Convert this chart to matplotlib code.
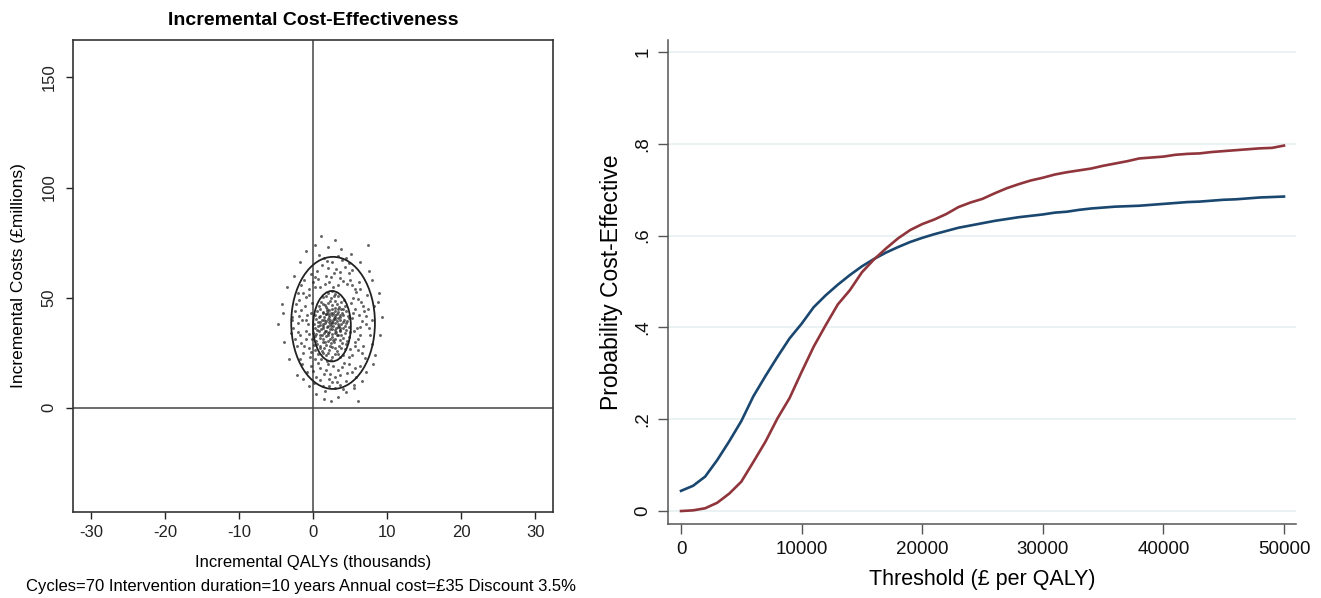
import matplotlib
matplotlib.use("Agg")
import matplotlib.pyplot as plt
from matplotlib.patches import Ellipse

plt.rcParams['font.family'] = ['Liberation Sans', 'DejaVu Sans']

# ---------------- Left panel data (cost-effectiveness plane) ----------------
outer_pts = [(-4.8, 38), (-4.2, 47), (-3.9, 30), (-3.5, 55), (-3.3, 22), (-2.9, 41), (-2.6, 60),
             (-2.2, 15), (-1.8, 66), (-1.0, 71), (-0.6, 10), (0.2, 74), (0.4, 6), (1.1, 78),
             (1.5, 4), (2.0, 73), (2.4, 3), (2.9, 76), (3.3, 5), (3.8, 72), (4.4, 7), (5.1, 70),
             (5.5, 9), (6.3, 66), (6.6, 12), (7.4, 74), (7.2, 16), (8.0, 58), (8.3, 24), (8.7, 48),
             (9.0, 33), (9.3, 41), (8.9, 52), (8.1, 20), (-3.0, 34), (-4.0, 43), (-2.0, 52),
             (7.6, 62), (6.0, 3), (-1.5, 20)]
top_pts = [(0.5, 62), (1.2, 65), (1.8, 60), (2.5, 66), (3.1, 63), (3.7, 59), (4.3, 64), (5.0, 58),
           (0.0, 57), (1.0, 55), (2.2, 57), (3.4, 55.5), (4.6, 56), (5.6, 54), (-0.6, 54), (2.8, 61),
           (1.5, 68), (3.9, 67), (4.8, 61), (0.3, 59.5), (2.0, 63.5), (6.2, 57), (-1.2, 58),
           (5.3, 62.5), (3.3, 69)]
bottom_pts = [(0.4, 14), (1.3, 10), (2.1, 13), (2.9, 9), (3.6, 15), (4.4, 12), (5.2, 16), (0.9, 18),
              (1.8, 17), (2.7, 19), (3.9, 18.5), (4.9, 20), (5.8, 14), (-0.3, 19), (-0.8, 16),
              (1.6, 7.5), (3.2, 11.5), (6.3, 19), (2.3, 15.5), (4.1, 8.5), (0.1, 11), (5.5, 10.5),
              (-1.3, 13)]
left_pts = [(-2.7, 36), (-2.4, 44), (-2.2, 28), (-1.9, 49), (-1.7, 33), (-1.5, 40), (-1.3, 25),
            (-1.1, 46), (-0.9, 31), (-0.7, 38), (-0.5, 51), (-0.4, 23), (-0.3, 43), (-2.0, 38.5),
            (-1.6, 29.5), (-1.0, 35), (-0.6, 27), (-1.4, 52), (-2.5, 31), (-0.2, 47.5), (-1.8, 22),
            (-2.9, 40), (-0.8, 42)]
right_pts = [(5.3, 24), (5.6, 30), (5.9, 36), (6.2, 42), (6.5, 48), (6.8, 28), (7.1, 38), (7.4, 45),
             (7.7, 33), (8.0, 40), (5.4, 50), (5.7, 45), (6.0, 26), (6.3, 33), (6.6, 39.5),
             (7.0, 22.5), (7.3, 51), (5.2, 40.5), (5.5, 35), (6.9, 44), (7.9, 29), (8.2, 46),
             (5.8, 52.5)]
band_pts = [(0.7, 58.5), (1.6, 56.2), (2.4, 59.3), (3.6, 61.8), (4.1, 57.4), (0.2, 55.0), (-0.3, 60.8),
            (4.9, 65.5), (1.9, 66.8), (2.7, 54.6), (5.2, 55.7), (-0.9, 50.3), (-1.6, 44.5),
            (-2.1, 34.2), (-1.2, 27.8), (-0.5, 33.5), (-0.9, 39.8), (-1.9, 41.8), (-0.3, 25.4),
            (-2.3, 47.0), (5.6, 27.8), (6.1, 31.0), (6.4, 36.5), (5.4, 43.0), (6.7, 46.2),
            (7.2, 41.5), (6.0, 49.5), (7.5, 36.0), (5.1, 47.5), (6.6, 24.8), (0.6, 20.2),
            (1.5, 15.3), (2.6, 11.8), (3.4, 17.2), (4.6, 15.8), (5.6, 18.2), (1.0, 12.6),
            (3.0, 14.0), (4.2, 20.4), (0.0, 16.5), (2.0, 19.8), (4.8, 23.2), (5.0, 26.5),
            (0.2, 22.0), (3.6, 10.2), (2.2, 9.8), (6.4, 54.0), (-1.6, 55.5), (4.4, 68.0),
            (0.8, 69.5)]
inner_pts = [(1.1, 22.3), (2.4, 21.6), (3.6, 22.8),
             (0.6, 24.2), (1.7, 23.8), (2.9, 24.5), (4.0, 24.0),
             (0.3, 26.1), (1.2, 25.7), (2.1, 26.4), (3.2, 25.9), (4.3, 26.6),
             (0.1, 28.3), (0.9, 27.8), (1.8, 28.6), (2.6, 27.5), (3.5, 28.2), (4.5, 28.9),
             (0.4, 30.2), (1.3, 29.7), (2.0, 30.5), (2.8, 29.9), (3.7, 30.6), (4.6, 30.1), (-0.1, 31.0),
             (0.2, 32.4), (1.0, 31.8), (1.7, 32.6), (2.5, 32.0), (3.2, 32.8), (4.0, 31.7), (4.8, 32.3),
             (0.0, 34.1), (0.8, 34.6), (1.5, 33.9), (2.2, 34.4), (2.9, 33.8), (3.6, 34.7), (4.3, 34.0), (5.0, 34.5),
             (0.3, 36.3), (1.1, 35.8), (1.9, 36.5), (2.6, 35.9), (3.3, 36.6), (4.1, 36.1), (4.8, 36.8),
             (0.1, 38.2), (0.9, 37.6), (1.6, 38.4), (2.3, 37.9), (3.0, 38.6), (3.8, 37.8), (4.5, 38.3),
             (0.4, 40.1), (1.2, 39.7), (2.0, 40.4), (2.7, 39.9), (3.4, 40.6), (4.2, 40.0), (4.9, 40.7),
             (0.2, 42.2), (1.0, 41.6), (1.8, 42.5), (2.5, 41.9), (3.2, 42.7), (4.0, 42.1), (4.7, 41.5),
             (0.5, 44.0), (1.4, 43.6), (2.2, 44.4), (3.0, 43.8), (3.8, 44.6), (4.5, 44.1),
             (0.8, 46.2), (1.7, 45.7), (2.6, 46.5), (3.5, 45.9), (4.3, 46.4),
             (1.1, 48.1), (2.0, 47.6), (2.9, 48.4), (3.8, 47.9),
             (1.4, 50.2), (2.4, 49.7), (3.4, 50.5),
             (2.0, 52.1), (3.0, 51.6)]
core_pts = [(1.4, 31.0), (2.3, 31.2), (3.0, 31.4), (1.2, 33.1), (2.6, 33.3), (3.4, 33.0), (1.8, 35.0),
            (2.9, 35.2), (3.7, 35.4), (0.7, 36.9), (1.4, 37.1), (2.0, 37.3), (2.7, 37.0), (3.5, 37.2),
            (1.0, 39.0), (1.8, 39.2), (2.5, 39.1), (3.2, 39.3), (4.0, 39.0), (1.5, 41.0), (2.2, 41.2),
            (2.9, 41.1), (3.6, 41.3), (1.3, 43.0), (2.0, 43.2), (2.7, 43.1), (3.4, 43.3), (1.9, 45.0),
            (2.9, 45.1), (2.3, 35.6), (1.6, 34.8), (3.1, 36.0), (2.1, 38.8), (2.8, 40.8), (1.7, 42.4),
            (3.3, 44.8), (2.4, 29.2), (3.0, 27.0), (1.5, 27.2), (2.0, 24.9),
            (0.5, 29.1), (1.6, 30.0), (2.7, 30.8), (3.9, 29.4), (0.9, 33.0), (2.0, 32.9), (3.8, 33.2),
            (4.5, 35.5), (0.5, 35.2), (1.4, 36.2), (2.4, 36.9), (3.6, 36.4), (0.6, 39.0), (1.5, 39.9),
            (2.3, 40.0), (3.0, 40.2), (3.7, 39.6), (4.6, 39.4), (0.8, 41.0), (2.1, 42.0), (3.0, 42.0),
            (3.9, 43.1), (0.9, 44.8), (1.9, 44.1), (2.6, 44.8), (4.1, 45.0), (1.3, 47.0), (2.3, 48.6),
            (3.2, 47.2), (4.2, 48.8), (1.7, 50.9), (2.8, 50.6), (2.5, 53.0), (1.0, 27.0), (2.3, 27.9),
            (3.8, 26.9), (1.4, 24.6), (2.6, 23.2), (3.3, 24.2), (1.9, 21.2), (2.0, 34.0), (3.1, 34.3),
            (1.3, 38.1), (2.6, 38.3), (3.4, 38.0), (2.4, 43.0), (1.6, 46.8), (3.7, 42.3), (4.3, 37.3),
            (0.4, 33.3)]

# confidence ellipses: (centre QALY, centre cost, full width, full height)
ellipse_outer = (2.7, 38.5, 11.3, 60.0)
ellipse_inner = (2.55, 37.0, 5.1, 32.0)

ce_xticks = [-30, -20, -10, 0, 10, 20, 30]
ce_yticks = [0, 50, 100, 150]

# ---------------- Right panel data (acceptability curves) ----------------
thresholds = list(range(0, 50001, 1000))
prob_blue = [0.044, 0.055, 0.075, 0.111, 0.152, 0.196, 0.25, 0.294, 0.336, 0.376, 0.408,
             0.444, 0.470, 0.493, 0.514, 0.533, 0.549, 0.563, 0.575, 0.586, 0.595,
             0.603, 0.610, 0.617, 0.622, 0.627, 0.632, 0.636, 0.640, 0.643, 0.646,
             0.650, 0.652, 0.656, 0.659, 0.661, 0.663, 0.664, 0.665, 0.667, 0.669,
             0.671, 0.673, 0.674, 0.676, 0.678, 0.679, 0.681, 0.683, 0.684, 0.685]
prob_red = [0.0, 0.0015, 0.006, 0.018, 0.038, 0.064, 0.107, 0.151, 0.202, 0.246, 0.303,
            0.358, 0.405, 0.450, 0.481, 0.520, 0.548, 0.572, 0.594, 0.612, 0.625,
            0.635, 0.647, 0.662, 0.672, 0.680, 0.692, 0.703, 0.712, 0.720, 0.726,
            0.733, 0.738, 0.742, 0.746, 0.752, 0.757, 0.762, 0.768, 0.770, 0.772,
            0.776, 0.778, 0.779, 0.782, 0.784, 0.786, 0.788, 0.790, 0.791, 0.796]
ceac_yticks = [0, 0.2, 0.4, 0.6, 0.8, 1.0]
ceac_ylabels = ["0", ".2", ".4", ".6", ".8", "1"]
ceac_xticks = [0, 10000, 20000, 30000, 40000, 50000]

fig = plt.figure(figsize=(13.21, 5.98), dpi=100)

# ---- left ----
ax1 = fig.add_axes([0.0553, 0.1438, 0.3634, 0.7893])
all_pts = outer_pts + top_pts + bottom_pts + left_pts + right_pts + band_pts + inner_pts + core_pts
ax1.scatter([p[0] for p in all_pts], [p[1] for p in all_pts], s=4.5, color="#222222",
            alpha=0.7, linewidths=0, zorder=3)
for (cx, cy, w, h) in (ellipse_outer, ellipse_inner):
    ax1.add_patch(Ellipse((cx, cy), w, h, fill=False, edgecolor="#222222", lw=1.3, zorder=4))
ax1.axvline(0, color="#444444", lw=1.1, zorder=2)
ax1.axhline(0, color="#444444", lw=1.1, zorder=2)
ax1.set_xlim(-32.4, 32.4)
ax1.set_ylim(-47.4, 167)
ax1.set_xticks(ce_xticks)
ax1.set_yticks(ce_yticks)
ax1.set_xticklabels([str(v) for v in ce_xticks], fontsize=12)
ax1.set_yticklabels([str(v) for v in ce_yticks], fontsize=12, rotation=90, va="center")
ax1.tick_params(direction="out", length=5, width=1, colors="#222222", pad=4)
ax1.tick_params(axis="y", pad=7)
for s in ax1.spines.values():
    s.set_linewidth(1.2)
    s.set_color("#333333")
ax1.set_title("Incremental Cost-Effectiveness", fontsize=14, fontweight="bold", pad=11)
ax1.set_xlabel("Incremental QALYs (thousands)", fontsize=12, labelpad=11)
ax1.set_ylabel("Incremental Costs (£millions)", fontsize=12.5, labelpad=11)
fig.text(0.2275, 1 - 586 / 598, "Cycles=70 Intervention duration=10 years Annual cost=£35 Discount 3.5%",
         ha="center", va="center", fontsize=12)

# ---- right ----
ax2 = fig.add_axes([0.5057, 0.1237, 0.4754, 0.8094])
ax2.set_xlim(-1078, 51000)
ax2.set_ylim(-0.0283, 1.026)
for yv in ceac_yticks:
    ax2.axhline(yv, color="#eaf2f3", lw=1.4, zorder=1)
ax2.plot(thresholds, prob_blue, color="#1a476f", lw=1.9, zorder=3)
ax2.plot(thresholds, prob_red, color="#90353b", lw=1.9, zorder=3)
ax2.set_yticks(ceac_yticks)
ax2.set_yticklabels(ceac_ylabels, rotation=90, va="center", fontsize=13.5)
ax2.set_xticks(ceac_xticks)
ax2.set_xticklabels([str(v) for v in ceac_xticks], fontsize=13.5)
ax2.tick_params(direction="out", length=7, width=1, colors="#555555", labelcolor="#111111", pad=5)
for side in ("top", "right"):
    ax2.spines[side].set_visible(False)
for side in ("left", "bottom"):
    ax2.spines[side].set_color("#555555")
    ax2.spines[side].set_linewidth(1.1)
ax2.set_xlabel("Threshold (£ per QALY)", fontsize=15.5, labelpad=8)
ax2.set_ylabel("Probability Cost-Effective", fontsize=16.5, labelpad=8)

fig.savefig("out.png", dpi=100, facecolor="white")
